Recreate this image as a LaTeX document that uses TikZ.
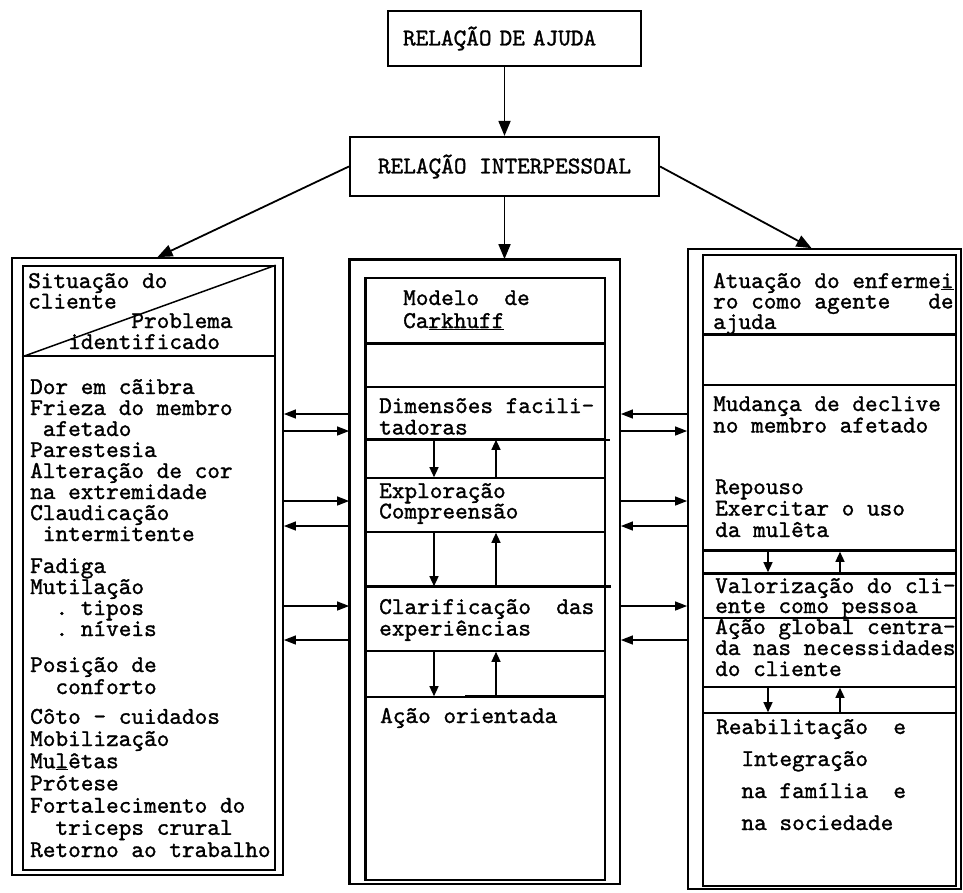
\documentclass[tikz,border=0pt]{standalone}
\usepackage{fontspec}
\setmonofont{lmmono10-regular.otf}[FakeBold=1.2]
\usepackage{tikz}
\usetikzlibrary{positioning, arrows.meta, fit}
\setlength{\lineskiplimit}{-30pt}

\tikzset{
  topbox/.style={draw, line width=2.2pt, inner ysep=0pt, font=\ttfamily\fontsize{24.1}{21.5}\selectfont},
  frame/.style={draw, line width=1.8pt, inner sep=0pt, fit={#1}},
  cell/.style={draw, line width=1.6pt, inner sep=0pt, fit={#1}},
  heavy/.style={line width=2.6pt},
  txt/.style={font=\ttfamily\fontsize{24.1}{#1}\selectfont, align=left, anchor=base west, inner sep=0pt},
  txt/.default=21.5,
  big/.style={-{Triangle[length=15pt,width=12pt]}, line width=1.8pt},
  side/.style={-{Triangle[length=12pt,width=9pt]}, line width=1.3pt},
  updown/.style={-{Triangle[length=10pt,width=9pt]}, line width=1.3pt}
}

\begin{document}
\begin{tikzpicture}[x=1pt, y=-1pt]
  \path[fill=white] (0,0) rectangle (963,892);
  \useasboundingbox (0,0) rectangle (963,892);

  % top of the scheme
  \node[topbox, minimum width=253pt, minimum height=55pt, inner xsep=15pt, text width=223pt, align=left] (ajuda) at (514.5,38.5) {RELAÇÃO DE AJUDA};
  \node[topbox, minimum width=309pt, minimum height=59pt, inner xsep=0pt] (inter) at (504.5,166.5) {RELAÇÃO INTERPESSOAL};

  % the three columns
  \node[frame={(12,258) (283,875)}] (lout) {};
  \node[frame={(350,260) (620,884)}] (mout) {};
  \node[frame={(688,249) (961,889)}] (rout) {};
  \draw[heavy] (mout.south west) -- (mout.north west) -- (mout.north east);

  \draw[big] (inter.south |- ajuda.south) -- (inter.north);
  \draw[big] (inter.west) -- ([xshift=10pt]lout.north);
  \draw[big] (inter.south) -- (inter.south |- mout.north);
  \draw[big] (inter.east) -- ([xshift=-13pt]rout.north);

  % left column (positions are the last baselines)
  \node[cell={(23,266) (275,356)}] (lc1) {};
  \node[cell={(23,356) (275,870)}] (lc2) {};
  \draw[line width=1.5pt] (lc1.north east) -- (lc1.south west);

  \node[txt=20.5] (situacao) at (28,308.5) {Situação do\\cliente};
  \node[txt=21] (problema) at (30,349) {\hphantom{xxxxxxxx}Problema\\\hphantom{xxx}identificado};
  \node[txt=21] (sinais) at (30,541) {Dor em cãibra\\Frieza do membro\\\hphantom{x}afetado\\Parestesia\\Alteração de cor\\na extremidade\\Claudicação\\\hphantom{x}intermitente};
  \node[txt=21] (fadiga) at (30,636) {Fadiga\\Mutilação\\\hphantom{xx}. tipos\\\hphantom{xx}. níveis};
  \node[txt=22] (posicao) at (30,694) {Posição de\\\hphantom{xx}conforto};
  \node[txt=22.2] (coto) at (30,857) {Côto - cuidados\\Mobilização\\Mu\underline{l}êtas\\Prótese\\Fortalecimento do\\\hphantom{xx}triceps crural\\Retorno ao trabalho};

  % middle column
  \node[cell={(366,278) (605,343)}] (mc1) {};
  \node[cell={(366,343) (605,387)}] (mc2) {};
  \node[cell={(366,387) (605,439)}] (mc3) {};
  \node[cell={(366,439) (605,478)}] (mc4) {};
  \node[cell={(366,478) (605,532)}] (mc5) {};
  \node[cell={(366,532) (605,587)}] (mc6) {};
  \node[cell={(366,587) (605,651)}] (mc7) {};
  \node[cell={(366,651) (605,697)}] (mc8) {};
  \node[cell={(366,697) (605,880)}] (mc9) {};
  \draw[heavy] (mc1.north west) -- (mc9.south west);
  \draw[heavy] (mc1.south west) -- (mc1.south east);
  \draw[heavy] (mc3.south west) -- ([xshift=4pt]mc3.south east);
  \draw[heavy] (mc7.north west) -- ([xshift=5pt]mc7.north east);
  \draw[heavy] ([xshift=100pt]mc9.north west) -- (mc9.north east);

  \node[txt=23] (modelo) at (403,328) {Modelo~~de\\Ca\underline{rkhuff}};
  \node[txt] (dimensoes) at (379,434.5) {Dimensões facili-\\tadoras};
  \node[txt=20.5] (exploracao) at (379,518.5) {Exploração\\Compreensão};
  \node[txt] (clarificacao) at (379,635.5) {Clarificação~~das\\experiências};
  \node[txt] (acao) at (380,723) {Ação orientada};

  \coordinate (mdn) at (434,0);
  \coordinate (mup) at (496,0);
  \draw[updown] (mc3.south -| mdn) -- (mc5.north -| mdn);
  \draw[updown] (mc5.north -| mup) -- (mc3.south -| mup);
  \draw[updown] (mc5.south -| mdn) -- (mc7.north -| mdn);
  \draw[updown] (mc7.north -| mup) -- (mc5.south -| mup);
  \draw[updown] (mc7.south -| mdn) -- (mc9.north -| mdn);
  \draw[updown] (mc9.north -| mup) -- (mc7.south -| mup);

  % right column
  \node[cell={(703,255) (956,334)}] (rc1) {};
  \node[cell={(703,334) (956,385)}] (rc2) {};
  \node[cell={(703,385) (956,551)}] (rc3) {};
  \node[cell={(703,551) (956,573)}] (rc4) {};
  \node[cell={(703,573) (956,618)}] (rc5) {};
  \node[cell={(703,618) (956,687)}] (rc6) {};
  \node[cell={(703,687) (956,713)}] (rc7) {};
  \node[cell={(703,713) (956,886)}] (rc8) {};
  \draw[heavy] (rc1.south west) -- (rc1.south east);
  \draw[heavy] (rc4.north west) -- (rc4.north east);
  \draw[heavy] (rc4.south west) -- (rc4.south east);

  \node[txt=20.5] (atuacao) at (713,329) {Atuação do enferme\underline{i}\\ro como agente~~~de\\ajuda};
  \node[txt] (declive) at (713,432.5) {Mudança de declive\\no membro afetado};
  \node[txt] (repouso) at (715,537) {Repouso\\Exercitar o uso\\da mulêta};
  \node[txt=20] (valorizacao) at (715,613) {Valorização do cli-\\ente como pessoa};
  \node[txt=21] (global) at (715,676) {Ação global centra-\\da nas necessidades\\do cliente};
  \node[txt=32] (reabilitacao) at (716,830) {Reabilitação~~e\\\hphantom{xx}Integração\\\hphantom{xx}na família~~e\\\hphantom{xx}na sociedade};

  \coordinate (rdn) at (768,0);
  \coordinate (rup) at (840,0);
  \draw[updown] (rc3.south -| rdn) -- (rc5.north -| rdn);
  \draw[updown] (rc5.north -| rup) -- (rc3.south -| rup);
  \draw[updown] (rc6.south -| rdn) -- (rc8.north -| rdn);
  \draw[updown] (rc8.north -| rup) -- (rc6.south -| rup);

  % links between the columns
  \foreach \y in {431,501,606} {
    \draw[side] (lout.east |- 0,\y) -- (mout.west |- 0,\y);
    \draw[side] (mout.east |- 0,\y) -- (rout.west |- 0,\y);
  }
  \foreach \y in {414,526,640} {
    \draw[side] (mout.west |- 0,\y) -- (lout.east |- 0,\y);
    \draw[side] (rout.west |- 0,\y) -- (mout.east |- 0,\y);
  }
\end{tikzpicture}
\end{document}
